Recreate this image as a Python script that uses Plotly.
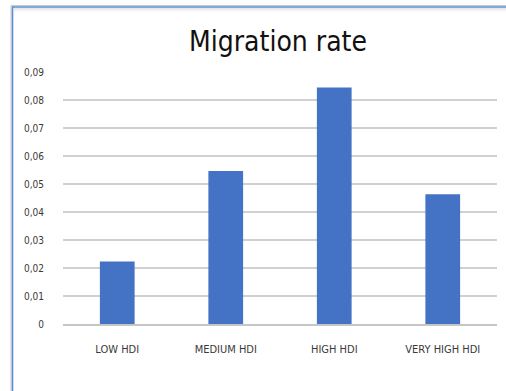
import plotly.graph_objects as go

# Migration rate by Human Development Index group
categories = ["LOW HDI", "MEDIUM HDI", "HIGH HDI", "VERY HIGH HDI"]
migration_rate = [0.0223, 0.0546, 0.0845, 0.0463]
y_ticks = [0, 0.01, 0.02, 0.03, 0.04, 0.05, 0.06, 0.07, 0.08, 0.09]
y_tick_labels = ["0", "0,01", "0,02", "0,03", "0,04", "0,05", "0,06", "0,07", "0,08", "0,09"]

W, H = 506, 391
ML, MR, MT, MB = 63, 9, 72, 67
PW, PH = W - ML - MR, H - MT - MB

FONT = "Liberation Sans Narrow, Arial Narrow, DejaVu Sans Condensed, Liberation Sans, sans-serif"


def px_x(px):
    return (px - ML) / PW


def px_y(py):
    return (H - MB - py) / PH


fig = go.Figure(
    go.Bar(
        x=categories,
        y=migration_rate,
        marker=dict(color="#4472C4", line=dict(width=0)),
        width=0.32,
        hoverinfo="x+y",
    )
)

shapes = []
# soft shadow inside the chart frame
for i, op in enumerate([0.10, 0.07, 0.04, 0.02]):
    shapes.append(dict(type="line", xref="paper", yref="paper",
                       x0=px_x(14), x1=px_x(W), y0=px_y(8.5 + i), y1=px_y(8.5 + i),
                       line=dict(color=f"rgba(0,0,0,{op})", width=1), layer="below"))
# outer grey edge of the frame
shapes.append(dict(type="line", xref="paper", yref="paper",
                   x0=px_x(11), x1=px_x(W), y0=px_y(5.5), y1=px_y(5.5),
                   line=dict(color="#c9c9c9", width=1)))
shapes.append(dict(type="line", xref="paper", yref="paper",
                   x0=px_x(11), x1=px_x(11), y0=px_y(5.5), y1=px_y(H),
                   line=dict(color="#c9c9c9", width=1)))
# blue frame border
shapes.append(dict(type="line", xref="paper", yref="paper",
                   x0=px_x(12), x1=px_x(W), y0=px_y(7), y1=px_y(7),
                   line=dict(color="#5b8bd0", width=1.6)))
shapes.append(dict(type="line", xref="paper", yref="paper",
                   x0=px_x(12.5), x1=px_x(12.5), y0=px_y(6.5), y1=px_y(H),
                   line=dict(color="#5b8bd0", width=1.6)))

fig.update_layout(
    width=W,
    height=H,
    margin=dict(l=ML, r=MR, t=MT, b=MB),
    paper_bgcolor="white",
    plot_bgcolor="white",
    showlegend=False,
    title=dict(
        text="Migration rate",
        x=278 / W,
        xref="container",
        xanchor="center",
        y=1 - 41 / H,
        yref="container",
        yanchor="middle",
        font=dict(family=FONT, size=28, color="#111111"),
    ),
    xaxis=dict(
        showgrid=False,
        showline=True,
        linecolor="#c6c6c6",
        linewidth=1.5,
        ticks="",
        tickfont=dict(family=FONT, size=11, color="#3a3a3a"),
        ticklabelstandoff=14,
    ),
    yaxis=dict(
        range=[0, 0.09],
        tickvals=y_ticks,
        ticktext=y_tick_labels,
        showgrid=True,
        gridcolor="#d0d0d0",
        gridwidth=1.5,
        zeroline=False,
        showline=False,
        ticks="",
        tickfont=dict(family=FONT, size=10, color="#3a3a3a"),
        ticklabelstandoff=18,
    ),
    bargap=0.68,
    shapes=shapes,
)

fig.write_html("out.html")
